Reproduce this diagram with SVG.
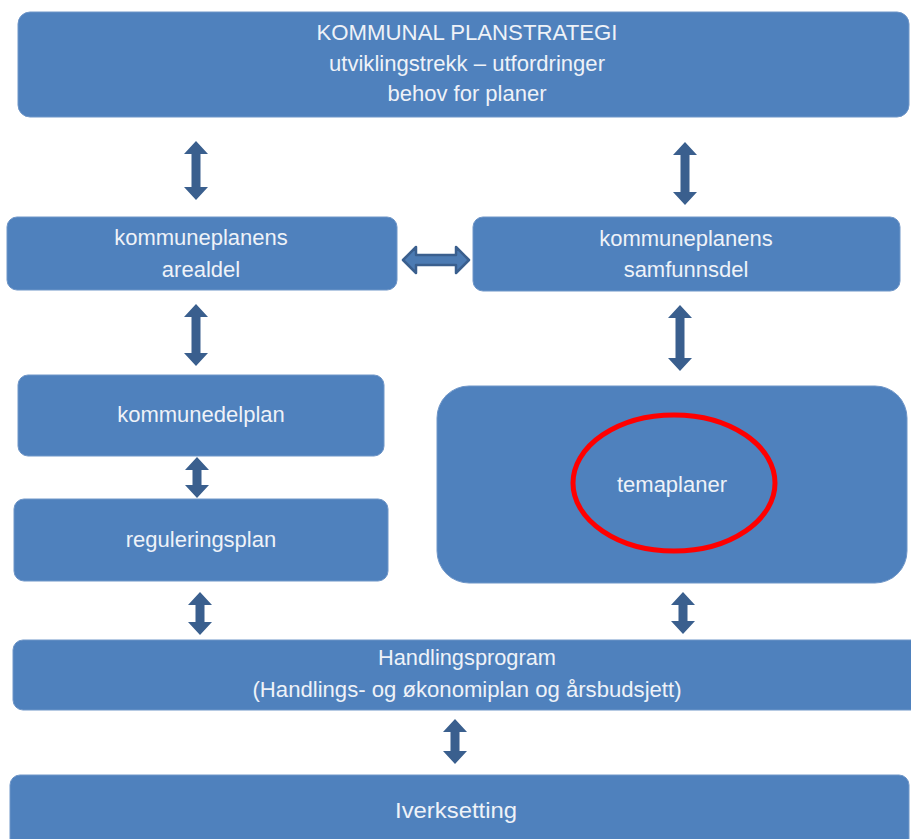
<svg xmlns="http://www.w3.org/2000/svg" width="911" height="839" viewBox="0 0 911 839">
<style>
.box{fill:#4F81BD;stroke:#6F96C8;stroke-width:1}
.t{font-family:"Liberation Sans",Arial,sans-serif;font-size:22px;fill:#EEF2F8;text-anchor:middle}
.arr{fill:#3A5F8E}
.harr{fill:#4C7BB3;stroke:#3A5F8E;stroke-width:2.5;stroke-linejoin:round}
</style>
<rect width="911" height="839" fill="#FFFFFF"/>
<g id="planstrategi">
<rect class="box" x="18" y="12" width="891" height="105" rx="12"/>
<text class="t" x="467" y="40" font-size="23" textLength="301" lengthAdjust="spacingAndGlyphs">KOMMUNAL PLANSTRATEGI</text>
<text class="t" x="467" y="71" font-size="23" textLength="276" lengthAdjust="spacingAndGlyphs">utviklingstrekk – utfordringer</text>
<text class="t" x="467" y="101" font-size="23" textLength="159" lengthAdjust="spacingAndGlyphs">behov for planer</text>
</g>
<g id="arealdel">
<rect class="box" x="7" y="217" width="390" height="73" rx="10"/>
<text class="t" x="201" y="245">kommuneplanens</text>
<text class="t" x="201" y="277">arealdel</text>
</g>
<g id="samfunnsdel">
<rect class="box" x="473" y="217" width="427" height="74" rx="10"/>
<text class="t" x="686" y="246">kommuneplanens</text>
<text class="t" x="686" y="277">samfunnsdel</text>
</g>
<g id="kommunedelplan">
<rect class="box" x="18" y="375" width="366" height="81" rx="10"/>
<text class="t" x="201" y="422">kommunedelplan</text>
</g>
<g id="reguleringsplan">
<rect class="box" x="14" y="499" width="374" height="82" rx="10"/>
<text class="t" x="201" y="547">reguleringsplan</text>
</g>
<g id="temaplaner">
<rect class="box" x="437" y="386" width="470" height="197" rx="32"/>
<text class="t" x="672" y="492">temaplaner</text>
<ellipse cx="674" cy="483" rx="101" ry="68" fill="none" stroke="#FF0000" stroke-width="5"/>
</g>
<g id="handlingsprogram">
<rect class="box" x="13" y="640" width="910" height="70" rx="10"/>
<text class="t" x="467" y="665" font-size="23" textLength="178" lengthAdjust="spacingAndGlyphs">Handlingsprogram</text>
<text class="t" x="467" y="697" font-size="23" textLength="429" lengthAdjust="spacingAndGlyphs">(Handlings- og økonomiplan og årsbudsjett)</text>
</g>
<g id="iverksetting">
<rect class="box" x="10" y="775" width="899" height="80" rx="10"/>
<text class="t" x="456" y="818" font-size="23" textLength="122" lengthAdjust="spacingAndGlyphs">Iverksetting</text>
</g>
<g id="connectors">
<polygon class="arr" points="196,141 208,154 200.5,154 200.5,187 208,187 196,200 184,187 191.5,187 191.5,154 184,154"/>
<polygon class="arr" points="685,142 697,155 689.5,155 689.5,192 697,192 685,205 673,192 680.5,192 680.5,155 673,155"/>
<polygon class="harr" points="403,260 416,247 416,255 456,255 456,247 469,260 456,273 456,265 416,265 416,273"/>
<polygon class="arr" points="196,304 208,317 200.5,317 200.5,353 208,353 196,366 184,353 191.5,353 191.5,317 184,317"/>
<polygon class="arr" points="680,305 692,318 684.5,318 684.5,358 692,358 680,371 668,358 675.5,358 675.5,318 668,318"/>
<polygon class="arr" points="197,457 209,470 201.5,470 201.5,485 209,485 197,498 185,485 192.5,485 192.5,470 185,470"/>
<polygon class="arr" points="200,592 212,605 204.5,605 204.5,622 212,622 200,635 188,622 195.5,622 195.5,605 188,605"/>
<polygon class="arr" points="683,592 695,605 687.5,605 687.5,621 695,621 683,634 671,621 678.5,621 678.5,605 671,605"/>
<polygon class="arr" points="455,719 467,732 459.5,732 459.5,751 467,751 455,764 443,751 450.5,751 450.5,732 443,732"/>
</g>
</svg>
